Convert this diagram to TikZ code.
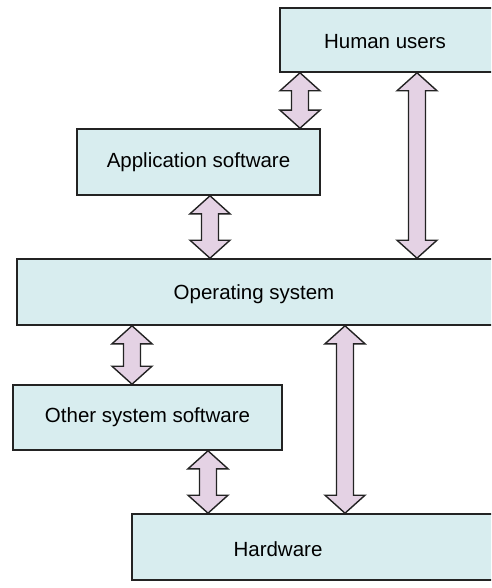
\documentclass[tikz,border=0pt]{standalone}
\usepackage{fontspec}
\setmainfont{Liberation Sans}
\usetikzlibrary{calc}

\definecolor{boxfill}{RGB}{216,237,239}
\definecolor{arrowfill}{RGB}{228,210,228}
\definecolor{ink}{RGB}{35,35,35}

% vertical double-headed block arrow between two points (upper point first)
\newcommand\fatarrow[2]{%
  \filldraw[arrowbody] let \p1=#1, \p2=#2 in
    (\x1,\y1) -- (\x1+20pt,\y1-18pt) -- (\x1+8.5pt,\y1-18pt) --
    (\x1+8.5pt,\y2+18pt) -- (\x1+20pt,\y2+18pt) -- (\x1,\y2) --
    (\x1-20pt,\y2+18pt) -- (\x1-8.5pt,\y2+18pt) -- (\x1-8.5pt,\y1-18pt) --
    (\x1-20pt,\y1-18pt) -- cycle;}

\begin{document}
\begin{tikzpicture}[x=1pt,y=-1pt,
  layerbox/.style={draw=ink, line width=1.6pt, fill=boxfill, inner sep=0pt,
    font=\fontsize{20.5}{24}\selectfont},
  arrowbody/.style={draw=ink, line width=1.4pt, fill=arrowfill, line join=miter},
  caption/.style={inner sep=0pt, font=\fontsize{20.5}{24}\selectfont}]
  \fill[white] (0,0) rectangle (491,588);
  \clip (0,0) rectangle (491,588);

  % layers
  \node[layerbox, minimum width=222pt, minimum height=64pt] (hu) at (391,40) {};
  \node[caption] (hutext) at (385,42) {Human users};
  \node[layerbox, minimum width=243pt, minimum height=66pt] (app) at (198.5,162) {Application software};
  \node[layerbox, minimum width=490pt, minimum height=66pt] (os) at (262,292) {};
  \node[caption] (ostext) at (254,294) {Operating system};
  \node[layerbox, minimum width=269pt, minimum height=65pt] (other) at (147.5,417.5) {Other system software};
  \node[layerbox, minimum width=380pt, minimum height=66pt] (hw) at (322,547) {};
  \node[caption] (hwtext) at (278,549) {Hardware};

  % arrow columns
  \coordinate (c1) at (300,0);
  \coordinate (c2) at (210,0);
  \coordinate (c3) at (132,0);
  \coordinate (c4) at (208,0);
  \coordinate (c5) at (417,0);
  \coordinate (c6) at (345,0);

  \fatarrow{(hu.south -| c1)}{(app.north -| c1)}
  \fatarrow{(app.south -| c2)}{(os.north -| c2)}
  \fatarrow{(os.south -| c3)}{(other.north -| c3)}
  \fatarrow{(other.south -| c4)}{(hw.north -| c4)}
  \fatarrow{(hu.south -| c5)}{(os.north -| c5)}
  \fatarrow{(os.south -| c6)}{(hw.north -| c6)}
\end{tikzpicture}
\end{document}
